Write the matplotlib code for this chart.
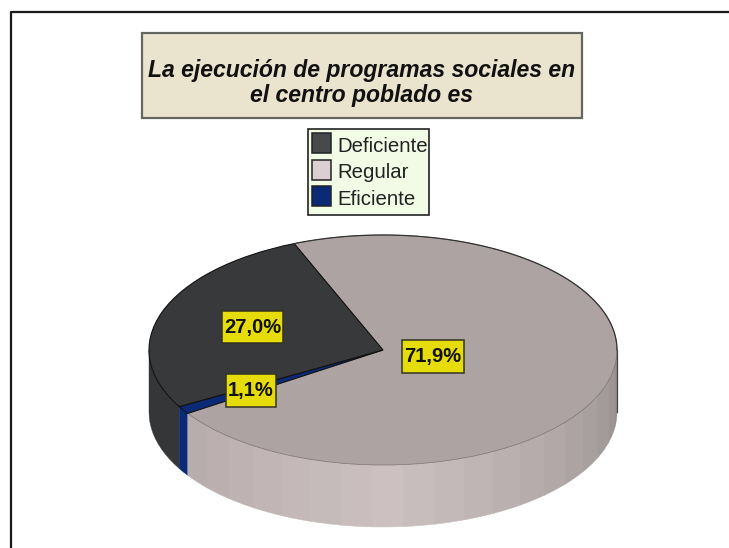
import matplotlib
matplotlib.use('Agg')
import matplotlib.pyplot as plt
import numpy as np
from matplotlib.patches import Rectangle

title = 'La ejecución de programas sociales en\nel centro poblado es'
categories = ['Regular', 'Eficiente', 'Deficiente']
values = [71.9, 1.1, 27.0]
value_labels = ['71,9%', '1,1%', '27,0%']
legend_order = ['Deficiente', 'Regular', 'Eficiente']

top_colors = {'Regular': '#aea3a3', 'Eficiente': '#0a2a78', 'Deficiente': '#38393b'}
swatch_colors = {'Deficiente': '#48494b', 'Regular': '#dccfd2', 'Eficiente': '#0a2a78'}

W, H = 729, 548
cx, cy, rx, ry, depth = 383, 350, 234, 115, 62
start = 112.3

fig = plt.figure(figsize=(W / 100, H / 100), dpi=100)

# pixel overlay for the frame
px = fig.add_axes([0, 0, 1, 1])
px.set_xlim(0, W)
px.set_ylim(H, 0)
px.axis('off')
px.plot([11, 11, W], [H, 12, 12], color='#1a1a1a', lw=1.6, solid_capstyle='butt')

# pie lives in unit circle coordinates, stretched to an ellipse
ax = fig.add_axes([0, 0, 1, 1])
ax.patch.set_alpha(0)


def wall(a0, a1, color, zorder=1):
    t = np.radians(np.linspace(a0, a1, 12))
    x = np.cos(t)
    y = np.sin(t)
    xs = np.concatenate([x, x[::-1]])
    ys = np.concatenate([y, y[::-1] - depth / ry])
    ax.fill(xs, ys, color=color, lw=0.3, zorder=zorder)


def regular_shade(a):
    # brightest facing the viewer, darker to the sides
    f = np.clip(1 - abs(a - 272) / 90, 0, 1)
    lo = np.array([0x90, 0x88, 0x88]) if a > 272 else np.array([0xa6, 0x9b, 0x9b])
    hi = np.array([0xcc, 0xc0, 0xc0])
    return (lo + (hi - lo) * f ** 0.8) / 255


# angles run clockwise from the start
edges = start - np.cumsum([0] + values) * 3.6
reg_end = edges[1] + 360
blue_end = edges[2] + 360

wall(180, blue_end, '#353638')
wall(blue_end, reg_end, top_colors['Eficiente'])
facets = np.arange(reg_end, 360, 7.7)
for a0 in facets:
    a1 = min(a0 + 7.7, 360)
    wall(a0, a1 + 0.2, regular_shade((a0 + a1) / 2))

wedges, _ = ax.pie(values, startangle=start, counterclock=False,
                   colors=[top_colors[c] for c in categories],
                   center=(0, 0), radius=1,
                   wedgeprops=dict(lw=0.8, edgecolor='#111111'))
wedges[0].set_edgecolor('#7a7070')
wedges[0].set_linewidth(0.5)
for w in wedges:
    w.set_zorder(3)

# dark outline on the far rim and right side
t = np.radians(np.linspace(start, 0, 60))
ax.plot(np.cos(t), np.sin(t), color='#333333', lw=0.9, zorder=4)
ax.plot([1, 1], [0, -depth / ry], color='#444444', lw=0.9, zorder=4)

ax.set_aspect('auto')
ax.set_xlim(-cx / rx, (W - cx) / rx)
ax.set_ylim(-(H - cy) / ry, cy / ry)
ax.axis('off')

# title box
px2 = fig.add_axes([0, 0, 1, 1])
px2.set_xlim(0, W)
px2.set_ylim(H, 0)
px2.axis('off')
px2.patch.set_alpha(0)
px2.add_patch(Rectangle((142, 33), 440, 85, fc='#eae3ce', ec='#666660', lw=1.6))
px2.text(362, 83, title, ha='center', va='center', fontsize=16.6, family='Liberation Sans',
         weight='bold', style='italic', linespacing=1.13, color='#111111')

# legend box
px2.add_patch(Rectangle((308, 129), 121, 86, fc='#f1fbe6', ec='#222222', lw=1.2))
for i, name in enumerate(legend_order):
    y = 133 + i * 26.7
    px2.add_patch(Rectangle((312, y), 19, 20, fc=swatch_colors[name], ec='#222222', lw=1.1))
    px2.text(337, y + 13, name, ha='left', va='center', fontsize=14.7,
             family='Liberation Sans', color='#222222')

# value labels
boxes = {'Regular': (402, 340, 62, 33), 'Eficiente': (226, 374, 50, 33), 'Deficiente': (222, 311, 61, 32)}
for name, lab in zip(categories, value_labels):
    x, y, w, h = boxes[name]
    px2.add_patch(Rectangle((x, y), w, h, fc='#e6dc0a', ec='#333322', lw=1.1))
    px2.text(x + w / 2, y + h / 2, lab, ha='center', va='center', fontsize=14.5,
             family=['Liberation Sans Narrow', 'Liberation Sans'], weight='bold', color='#111111')

fig.savefig('out.png', dpi=100)
